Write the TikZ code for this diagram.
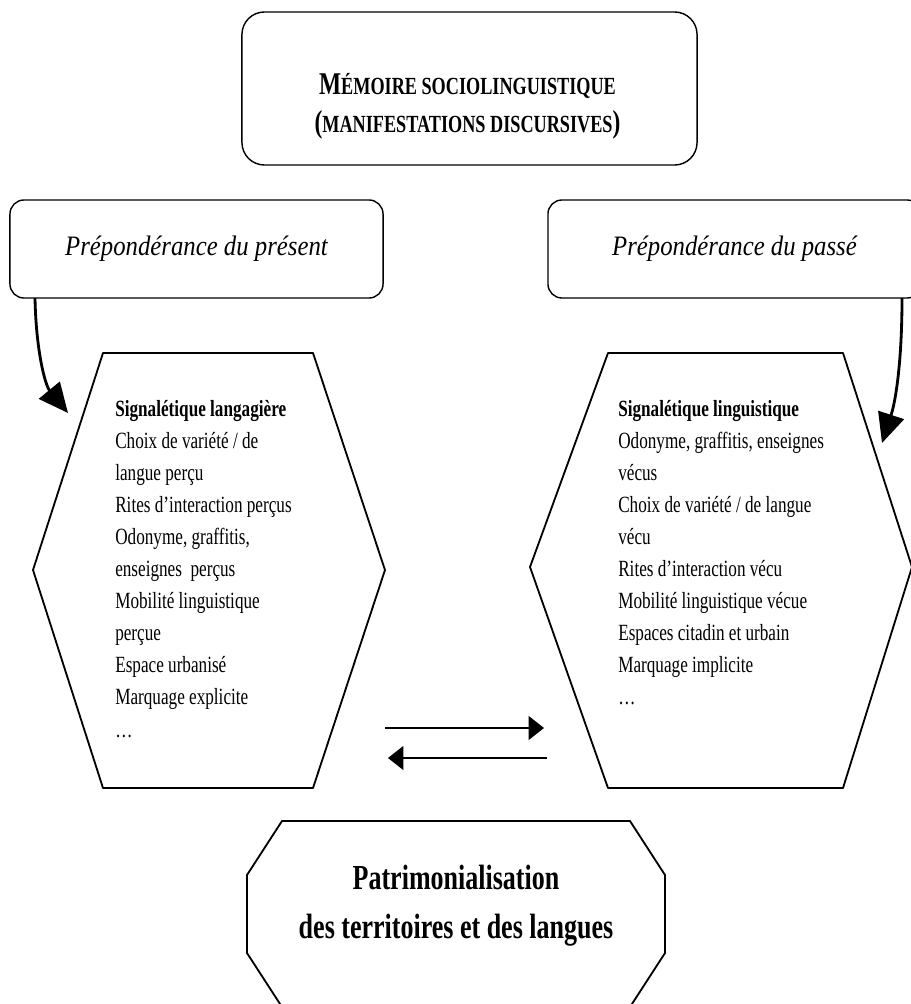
\documentclass[tikz,border=0pt]{standalone}
\usepackage{fontspec}
\setmainfont{Liberation Serif}[FakeStretch=0.74]
\newfontfamily\labit{Liberation Serif}[FakeStretch=0.88]
\usetikzlibrary{arrows.meta}
\newcommand\scfake[2]{{\fontsize{22.5}{27}\selectfont #1}{\fontsize{17.5}{27}\selectfont #2}}

\begin{document}
\begin{tikzpicture}[x=0.025cm,y=-0.025cm,line join=round,
  box/.style={draw,line width=1pt,rounded corners=10pt},
  hexa/.style={line width=1.3pt},
  courbe/.style={line width=2pt,-{Triangle[length=21pt,width=19pt]}},
  echange/.style={line width=1.4pt,-{Triangle[length=11pt,width=17pt]}},
  liste/.style={align=left,anchor=north west,inner sep=0pt,font=\fontsize{16.5}{22.8}\selectfont}]
  \useasboundingbox (0,0) rectangle (911,1004);
  \node[box,rounded corners=16pt,minimum width=11.375cm,minimum height=3.825cm] (memo) at (469.5,88.5) {};
  \node[align=center,font=\bfseries\fontsize{22.5}{27}\selectfont] (memotxt) at (467.5,106)
    {\scfake{M}{ÉMOIRE SOCIOLINGUISTIQUE}\\\scfake{(}{MANIFESTATIONS DISCURSIVES}{)}};
  \node[box,minimum width=9.325cm,minimum height=2.45cm,font=\labit\itshape\fontsize{20}{24}\selectfont] (lpres) at (196.5,249) {Prépondérance du présent};
  \node[box,minimum width=9.325cm,minimum height=2.45cm,font=\labit\itshape\fontsize{20}{24}\selectfont] (rpass) at (734.5,249) {Prépondérance du passé};
  \draw[hexa] (103,353) -- (313,353) -- (385,570) -- (313,788) -- (103,788) -- (33,570) -- cycle;
  \draw[hexa] (608,353) -- (843,353) -- (912,567) -- (843,788) -- (608,788) -- (530,567) -- cycle;
  \draw[hexa] (282,821) -- (630,821) -- (665,875) -- (665,953) -- (630,1007) -- (282,1007) -- (247,953) -- (247,875) -- cycle;
  \node[liste] (ltxt) at (115,400) {\textbf{Signalétique langagière}\\Choix de variété / de\\langue perçu\\Rites d’interaction perçus\\Odonyme, graffitis,\\enseignes\ \ perçus\\Mobilité linguistique\\perçue\\Espace urbanisé\\Marquage explicite\\…};
  \node[liste] (rtxt) at (618,400) {\textbf{Signalétique linguistique}\\Odonyme, graffitis, enseignes\\vécus\\Choix de variété / de langue\\vécu\\Rites d’interaction vécu\\Mobilité linguistique vécue\\Espaces citadin et urbain\\Marquage implicite\\…};
  \node[align=center,font=\bfseries\fontsize{25}{35}\selectfont] (patri) at (456,906) {Patrimonialisation\\des territoires et des langues};
  \coordinate (lstart) at (35,298);
  \coordinate (ltip) at (68,413);
  \coordinate (rstart) at (902,298);
  \coordinate (rtip) at (882,443);
  \coordinate (m1) at (385,728);
  \coordinate (m2) at (544,728);
  \coordinate (m3) at (547,758);
  \coordinate (m4) at (388,758);
  \draw[courbe] (lstart) .. controls (36,350) and (45,385) .. (ltip);
  \draw[courbe] (rstart) .. controls (902,360) and (896,400) .. (rtip);
  \draw[echange] (m1) -- (m2);
  \draw[echange] (m3) -- (m4);
\end{tikzpicture}
\end{document}
